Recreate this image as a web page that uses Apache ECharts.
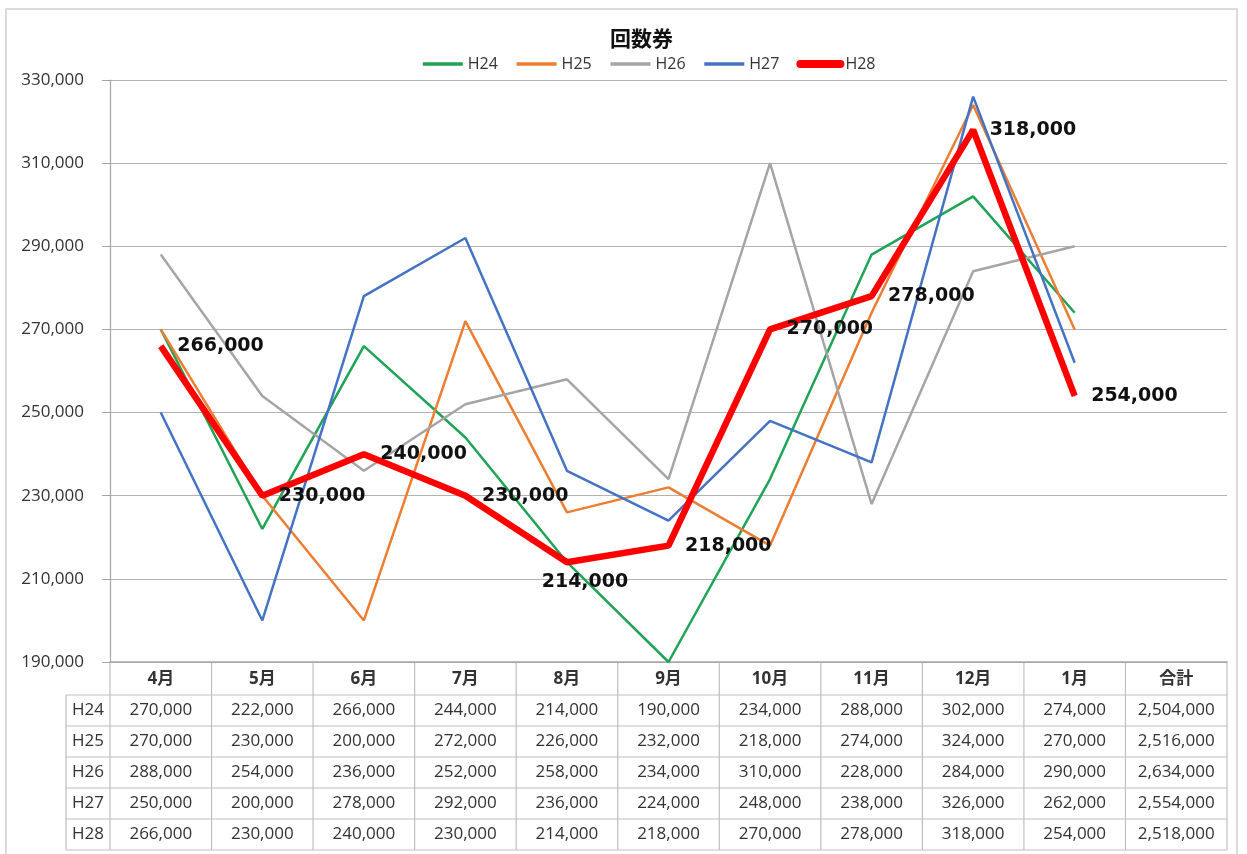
<!DOCTYPE html>
<html>
<head>
<meta charset="utf-8">
<script src="https://cdn.jsdelivr.net/npm/echarts@6/dist/echarts.min.js"></script>
<style>
html,body{margin:0;padding:0;background:#fff;}
#chart{width:1247px;height:854px;}
</style>
</head>
<body>
<div id="chart"></div>
<script>
const categories = ['4月','5月','6月','7月','8月','9月','10月','11月','12月','1月','合計'];
const seriesNames = ['H24','H25','H26','H27','H28'];
const h24 = [270000,222000,266000,244000,214000,190000,234000,288000,302000,274000];
const h25 = [270000,230000,200000,272000,226000,232000,218000,274000,324000,270000];
const h26 = [288000,254000,236000,252000,258000,234000,310000,228000,284000,290000];
const h27 = [250000,200000,278000,292000,236000,224000,248000,238000,326000,262000];
const h28 = [266000,230000,240000,230000,214000,218000,270000,278000,318000,254000];
const totals = [2504000,2516000,2634000,2554000,2518000];
const seriesColors = ['#1fa355','#ed7d31','#a5a5a5','#4472c4','#ff0000'];

const allValues = [h24,h25,h26,h27,h28];
const fmt = v => v.toLocaleString('en-US');
const numFont = "'Open Sans','Noto Sans CJK JP',sans-serif";

const chart = echarts.init(document.getElementById('chart'), null, {renderer:'canvas'});

const series = seriesNames.map((name, si) => {
  const isMain = si === 4;
  const s = {
    name: name,
    type: 'line',
    symbol: isMain ? 'circle' : 'none',
    symbolSize: isMain ? 1 : 0,
    showSymbol: true,
    data: isMain ? allValues[si].map((v, i) => i === 4 ? {value: v, label: {position: 'bottom', distance: 10, offset: [18, 0]}} : v) : allValues[si],
    lineStyle: {color: seriesColors[si], width: isMain ? 6.5 : 2.5},
    itemStyle: {color: seriesColors[si]},
    z: isMain ? 5 : 2,
    animation: false
  };
  if (isMain) {
    s.label = {
      show: true,
      position: 'right',
      distance: 16,
      formatter: p => fmt(p.value),
      fontFamily: "'DejaVu Sans',sans-serif",
      fontWeight: 'bold',
      fontSize: 19,
      color: '#111'
    };
  }
  return s;
});

const option = {
  animation: false,
  backgroundColor: '#fff',
  title: {
    text: '回数券',
    left: 605,
    top: 23,
    textStyle: {fontFamily: "'Noto Sans CJK JP',sans-serif", fontSize: 21, fontWeight: 'bold', color: '#111'}
  },
  legend: {
    data: seriesNames.map((n, i) => i === 4 ? {name: n, lineStyle: {width: 8, cap: 'round'}} : {name: n, lineStyle: {width: 3.5}}),
    top: 51,
    left: 416,
    itemWidth: 40,
    itemHeight: 14,
    itemGap: 17,
    itemStyle: {opacity: 0},
    textStyle: {fontFamily: numFont, fontSize: 16, color: '#333'}
  },
  grid: {left: 110, right: 20, top: 80, bottom: 192, containLabel: false},
  xAxis: {
    type: 'category',
    data: categories,
    boundaryGap: true,
    axisLine: {show: true, lineStyle: {color: '#a6a6a6', width: 1.5}},
    axisTick: {show: false},
    axisLabel: {
      interval: 0,
      margin: 17,
      verticalAlign: 'middle',
      fontFamily: numFont,
      fontSize: 17,
      fontWeight: 'bold',
      color: '#333'
    },
    splitLine: {show: false}
  },
  yAxis: {
    type: 'value',
    min: 190000,
    max: 330000,
    interval: 20000,
    axisLine: {show: true, lineStyle: {color: '#a6a6a6', width: 1.2}},
    axisTick: {show: true, length: 8, lineStyle: {color: '#a6a6a6'}},
    axisLabel: {
      margin: 26,
      formatter: v => fmt(v),
      fontFamily: numFont,
      fontSize: 17,
      color: '#333'
    },
    splitLine: {show: true, lineStyle: {color: '#b3b3b3', width: 1.2}}
  },
  series: series
};

chart.setOption(option);

// Data table below the plot, positioned from the axes' own scales
const xc0 = chart.convertToPixel({xAxisIndex: 0}, 0);
const xc1 = chart.convertToPixel({xAxisIndex: 0}, 1);
const band = xc1 - xc0;
const plotLeft = xc0 - band / 2;
const plotRight = plotLeft + band * categories.length;
const tableTop = chart.convertToPixel({yAxisIndex: 0}, 190000);
const headerH = 33;
const rowH = 31;
const nameColLeft = 66;
const rowsTop = tableTop + headerH;
const tableBottom = rowsTop + rowH * seriesNames.length;
const lineColor = '#bfbfbf';

const g = [];
g.push({type: 'rect', shape: {x: 6, y: 9, width: 1231, height: 900}, style: {fill: 'none', stroke: '#d0d0d0', lineWidth: 1.5}, silent: true, z: 0});
for (let r = 0; r <= seriesNames.length; r++) {
  const y = rowsTop + r * rowH;
  g.push({type: 'line', shape: {x1: nameColLeft, y1: y, x2: plotRight, y2: y}, style: {stroke: lineColor, lineWidth: 1.2}, silent: true});
}
for (let c = 0; c <= categories.length; c++) {
  const x = plotLeft + c * band;
  g.push({type: 'line', shape: {x1: x, y1: tableTop, x2: x, y2: tableBottom}, style: {stroke: lineColor, lineWidth: 1.2}, silent: true});
}
g.push({type: 'line', shape: {x1: nameColLeft, y1: rowsTop, x2: nameColLeft, y2: tableBottom}, style: {stroke: lineColor, lineWidth: 1.2}, silent: true});
seriesNames.forEach((name, si) => {
  const cy = rowsTop + si * rowH + rowH / 2;
  g.push({type: 'text', style: {text: name, x: nameColLeft + 6, y: cy, align: 'left', verticalAlign: 'middle', fontFamily: numFont, fontSize: 17, fill: '#333'}, silent: true});
  const row = allValues[si].concat([totals[si]]);
  row.forEach((v, ci) => {
    const cx = chart.convertToPixel({xAxisIndex: 0}, ci);
    g.push({type: 'text', style: {text: fmt(v), x: cx, y: cy, align: 'center', verticalAlign: 'middle', fontFamily: numFont, fontSize: 17, fill: '#333'}, silent: true});
  });
});

chart.setOption({graphic: g});
</script>
</body>
</html>
